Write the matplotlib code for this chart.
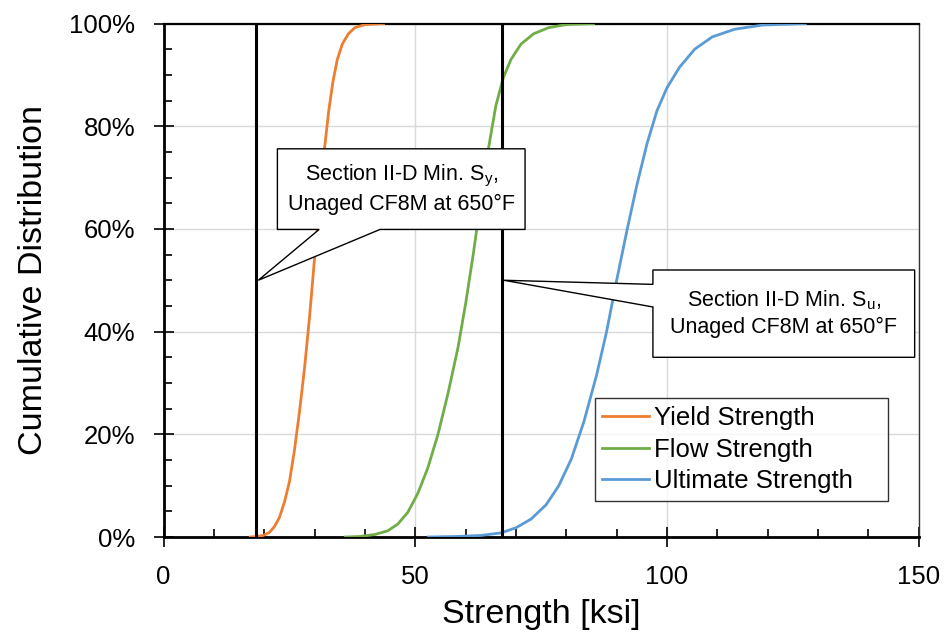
import matplotlib
matplotlib.use("Agg")
import matplotlib.pyplot as plt
from matplotlib.patches import Polygon
from matplotlib.ticker import MultipleLocator, PercentFormatter

# ============ DATA ============
yield_ksi = [17.2, 18.5, 19.8, 21.0, 22.0, 23.0, 24.0, 25.0, 26.0, 27.0, 28.0,
             29.0, 30.0, 31.0, 32.0, 32.8, 33.6, 34.5, 35.5, 36.7, 38.0, 40.0, 43.7]
yield_pct = [0, 0.1, 0.3, 0.9, 2.0, 3.8, 6.8, 10.8, 17.0, 24.5, 33.0,
             43.0, 54.5, 65.5, 76.0, 83.0, 88.5, 93.0, 96.0, 98.0, 99.2, 99.8, 100]

flow_ksi = [36.1, 39.0, 42.0, 44.5, 46.5, 48.5, 50.5, 52.5, 54.5, 56.5, 58.5, 60.0,
            61.5, 63.0, 64.5, 66.0, 67.5, 69.0, 71.0, 73.5, 76.5, 80.0, 85.4]
flow_pct = [0, 0.1, 0.5, 1.2, 2.5, 4.8, 8.5, 13.5, 20.0, 28.0, 37.0, 45.5,
            55.0, 65.5, 75.5, 84.0, 89.5, 93.0, 96.0, 98.0, 99.2, 99.8, 100]

ult_ksi = [52.6, 58.0, 63.0, 67.0, 70.0, 73.0, 76.0, 78.5, 81.0, 83.5, 86.0, 88.0,
           90.0, 92.0, 94.0, 96.0, 98.0, 100.0, 102.5, 105.5, 109.0, 113.5, 119.0, 127.5]
ult_pct = [0, 0.1, 0.3, 0.8, 1.8, 3.5, 6.3, 10.0, 15.2, 22.5, 31.5, 40.0,
           50.0, 59.5, 68.5, 76.5, 83.0, 87.5, 91.5, 95.0, 97.4, 98.9, 99.7, 100]

series_labels = ["Yield Strength", "Flow Strength", "Ultimate Strength"]
min_sy = 18.4   # Section II-D min Sy, ksi
min_su = 67.2   # Section II-D min Su, ksi
callout_sy = "Section II-D Min. S$_\\mathregular{y}$,\nUnaged CF8M at 650°F"
callout_su = "Section II-D Min. S$_\\mathregular{u}$,\nUnaged CF8M at 650°F"
# =======================================================

COLORS = ["#ED7D31", "#70AD47", "#5B9BD5"]

plt.rcParams["font.family"] = ["Liberation Sans", "DejaVu Sans"]
plt.rcParams["mathtext.fontset"] = "custom"
plt.rcParams["mathtext.rm"] = "Liberation Sans"

fig = plt.figure(figsize=(9.47, 6.39), dpi=100)
ax = fig.add_axes([0.1728, 0.1596, 0.7973, 0.8036])

for xs, ys, col, lab in zip([yield_ksi, flow_ksi, ult_ksi],
                            [yield_pct, flow_pct, ult_pct],
                            COLORS, series_labels):
    ax.plot(xs, ys, color=col, lw=2.0, label=lab, zorder=3,
            solid_joinstyle="round")

ax.axvline(min_sy, color="black", lw=2.2, zorder=4)
ax.axvline(min_su, color="black", lw=2.2, zorder=4)

# callout shapes (data coords)
box1 = [(22.6, 75.6), (71.8, 75.6), (71.8, 59.9), (43.0, 59.9),
        (18.8, 50.0), (30.9, 59.9), (22.6, 59.9)]
box2 = [(97.2, 52.0), (149.2, 52.0), (149.2, 35.0), (97.2, 35.0),
        (97.2, 44.8), (67.6, 50.0), (97.2, 49.2)]
for pts in (box1, box2):
    ax.add_patch(Polygon(pts, closed=True, facecolor="white",
                         edgecolor="black", lw=1.0, zorder=5))
ax.text(47.2, 67.8, callout_sy, ha="center", va="center", fontsize=15.5,
        linespacing=1.3, zorder=6)
ax.text(123.2, 43.5, callout_su, ha="center", va="center", fontsize=15.5,
        linespacing=1.3, zorder=6)

ax.set_xlim(0, 150)
ax.set_ylim(0, 100)
ax.xaxis.set_major_locator(MultipleLocator(50))
ax.xaxis.set_minor_locator(MultipleLocator(10))
ax.yaxis.set_major_locator(MultipleLocator(20))
ax.yaxis.set_minor_locator(MultipleLocator(5))
ax.yaxis.set_major_formatter(PercentFormatter(decimals=0))

ax.grid(True, which="major", color="#D9D9D9", lw=1.0, zorder=0)
ax.set_axisbelow(True)

ax.tick_params(which="major", direction="inout", length=15, width=1.2,
               labelsize=18.5, pad=13)
ax.tick_params(which="minor", direction="in", length=6, width=1.2)

for side in ("left", "bottom"):
    ax.spines[side].set_linewidth(2.0)
ax.spines["top"].set_linewidth(1.6)
ax.spines["right"].set_linewidth(1.0)
ax.spines["right"].set_color("#333333")

ax.set_xlabel("Strength [ksi]", fontsize=24.5)
ax.set_ylabel("Cumulative Distribution", fontsize=24.5)
ax.xaxis.set_label_coords(0.5, -0.12)
ax.yaxis.set_label_coords(-0.152, 0.5)

leg = ax.legend(loc="lower left", bbox_to_anchor=(0.571, 0.070, 0.388, 0.212),
                mode="expand", borderaxespad=0, fontsize=18.5, frameon=True,
                fancybox=False, handlelength=1.8, handletextpad=0.2,
                labelspacing=0.3, borderpad=0.3)
leg.get_frame().set_edgecolor("black")
leg.get_frame().set_linewidth(1.0)
leg.set_zorder(7)

fig.savefig("out.png", dpi=100)
